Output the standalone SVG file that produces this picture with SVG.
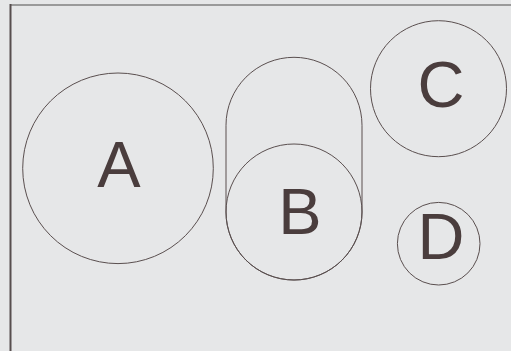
<svg xmlns="http://www.w3.org/2000/svg" width="511" height="351" viewBox="0 0 511 351">
<style>
.shape{fill:none;stroke:#5a4f4f;stroke-width:1}
.lbl{font-family:"Liberation Sans",Arial,sans-serif;font-size:65px;fill:#4a3d3d;text-anchor:middle}
</style>
<rect x="0" y="0" width="511" height="351" fill="#e6e7e8"/>
<g id="frame">
<line x1="10" y1="5" x2="511" y2="5" stroke="#9a9a9a" stroke-width="2"/>
<line x1="10.5" y1="4" x2="10.5" y2="351" stroke="#574e4e" stroke-width="2"/>
</g>
<g id="connectors"></g>
<g id="node-A">
<circle class="shape" cx="118" cy="168.3" r="95.3"/>
<text class="lbl" x="119" y="187">A</text>
</g>
<g id="node-B">
<rect class="shape" x="226" y="57.3" width="136" height="222.7" rx="68" ry="68"/>
<circle class="shape" cx="294" cy="212" r="68"/>
<text class="lbl" x="300" y="233.5">B</text>
</g>
<g id="node-C">
<circle class="shape" cx="438.5" cy="88.7" r="68"/>
<text class="lbl" x="441" y="106.5">C</text>
</g>
<g id="node-D">
<circle class="shape" cx="438.7" cy="243.7" r="41.3"/>
<text class="lbl" x="441" y="259">D</text>
</g>
</svg>
